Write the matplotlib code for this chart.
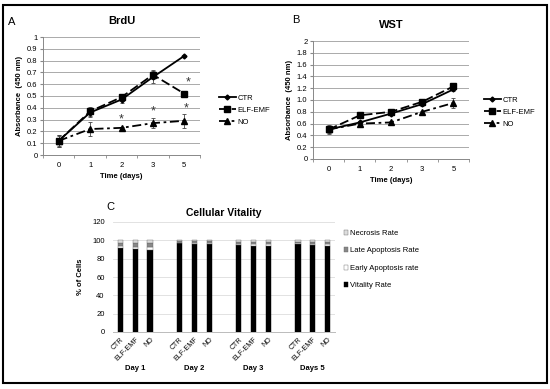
import numpy as np
import matplotlib
matplotlib.use("Agg")
import matplotlib.pyplot as plt
from matplotlib.patches import Rectangle
from matplotlib.transforms import blended_transform_factory

plt.rcParams['font.family'] = ['Liberation Sans', 'DejaVu Sans']

# time points (categorical x axis)
days = ['0', '1', '2', '3', '5']
series = ['CTR', 'ELF-EMF', 'NO']

# BrdU absorbance
brdu_ctr = [0.12, 0.36, 0.47, 0.66, 0.84]
brdu_elf = [0.12, 0.37, 0.49, 0.68, 0.52]
brdu_no = [0.12, 0.22, 0.23, 0.27, 0.29]
brdu_ctr_err = [0.05, 0.04, 0.03, 0.05, 0.01]
brdu_elf_err = [0.04, 0.04, 0.02, 0.04, 0.02]
brdu_no_err = [0.05, 0.06, 0.01, 0.04, 0.06]
# significance stars (category index, y)
brdu_star_x = [2.0, 3.0, 4.05, 4.12]
brdu_star_y = [0.30, 0.37, 0.395, 0.615]

# WST absorbance
wst_ctr = [0.50, 0.62, 0.77, 0.93, 1.18]
wst_elf = [0.50, 0.74, 0.80, 0.97, 1.23]
wst_no = [0.50, 0.60, 0.62, 0.80, 0.95]
wst_ctr_err = [0.08, 0.03, 0.03, 0.03, 0.03]
wst_elf_err = [0.06, 0.03, 0.03, 0.03, 0.03]
wst_no_err = [0.05, 0.03, 0.02, 0.02, 0.08]

# cellular vitality (%), 3 groups x 4 days
groups = ['Day 1', 'Day 2', 'Day 3', 'Days 5']
vitality = [92, 91, 89, 97, 96, 96, 95, 94, 94, 96, 95, 94]
early_apo = [2, 2, 4, 0.5, 1, 1, 1, 1.5, 1.5, 1, 1, 1.5]
late_apo = [3, 4, 4, 1.5, 2, 2, 2.5, 2.5, 2.5, 1.5, 2, 2.5]
necrosis = [3, 3, 3, 1, 1, 1, 1.5, 2, 2, 1.5, 2, 2]

W, H = 550, 389
fig = plt.figure(figsize=(5.5, 3.89), dpi=100)


def fx(px):
    return px / W


def fy(py):
    return 1 - py / H


def line_panel(ax, ctr, elf, no, errs, ymax, ystep, ylabels, title):
    x = np.arange(len(days))
    styles = [('-', 'D', 2.5), ((0, (5, 2)), 's', 4.5), ((0, (5, 2, 1.5, 2)), '^', 4)]
    for vals, err, name, (ls, mk, ms) in zip([ctr, elf, no], errs, series, styles):
        ax.errorbar(x, vals, yerr=err, fmt='none', ecolor='#444444', elinewidth=0.6,
                    capsize=1.5, capthick=0.6, zorder=2)
        ax.plot(x, vals, color='black', linestyle=ls, linewidth=1.3,
                marker=mk, markersize=ms, label=name, zorder=3)
    ax.set_xlim(-0.5, len(days) - 0.5)
    ax.set_ylim(0, ymax)
    ax.set_yticks(np.arange(0, ymax + ystep / 2, ystep))
    ax.set_yticklabels(ylabels)
    ax.set_xticks(x)
    ax.set_xticklabels(days)
    ax.set_xticks(np.arange(-0.5, len(days)), minor=True)
    ax.tick_params(axis='x', which='major', length=0, labelsize=5.5, pad=5)
    ax.tick_params(axis='x', which='minor', length=2.5, color='#888888')
    ax.tick_params(axis='y', length=2, color='#888888', labelsize=5.5, pad=2)
    ax.yaxis.grid(True, color='#aaaaaa', linewidth=0.7)
    ax.set_axisbelow(True)
    for s in ['top', 'right']:
        ax.spines[s].set_visible(False)
    for s in ['left', 'bottom']:
        ax.spines[s].set_color('#888888')
        ax.spines[s].set_linewidth(0.7)
    ax.set_xlabel('Time (days)', fontsize=5.5, fontweight='bold', labelpad=3)
    ax.set_ylabel('Absorbance  (450 nm)', fontsize=5.5, fontweight='bold', labelpad=3)
    ax.set_title(title, fontsize=8, fontweight='bold', pad=9)


# panel A
axA = fig.add_axes([fx(43), fy(155), fx(157), 118 / H])
line_panel(axA, brdu_ctr, brdu_elf, brdu_no, [brdu_ctr_err, brdu_elf_err, brdu_no_err],
           1.0, 0.1, ['0', '0.1', '0.2', '0.3', '0.4', '0.5', '0.6', '0.7', '0.8', '0.9', '1'], 'BrdU')
for sx, sy in zip(brdu_star_x, brdu_star_y):
    axA.text(sx, sy, '*', ha='center', va='center', fontsize=9, color='#333333')
axA.legend(loc='center left', bbox_to_anchor=(fx(212), fy(110)), bbox_transform=fig.transFigure,
           frameon=False, fontsize=5.5, handlelength=2.2, handletextpad=0.2, labelspacing=0.6)
fig.text(fx(8), fy(22), 'A', fontsize=8, va='center')

# panel B
axB = fig.add_axes([fx(313), fy(159), fx(156), 118 / H])
line_panel(axB, wst_ctr, wst_elf, wst_no, [wst_ctr_err, wst_elf_err, wst_no_err],
           2.0, 0.2, ['0', '0.2', '0.4', '0.6', '0.8', '1.0', '1.2', '1.4', '1.6', '1.8', '2'], 'WST')
axB.legend(loc='center left', bbox_to_anchor=(fx(477), fy(112)), bbox_transform=fig.transFigure,
           frameon=False, fontsize=5.5, handlelength=2.2, handletextpad=0.2, labelspacing=0.6)
fig.text(fx(292), fy(20), 'B', fontsize=8, va='center')

# panel C
axC = fig.add_axes([fx(113), fy(332), fx(222), 110 / H])
pos = np.array([4 * g + i for g in range(len(groups)) for i in range(3)])
bw = 0.35
b = np.zeros(len(vitality))
stacks = [(vitality, 'black', 'Vitality Rate'),
          (early_apo, 'white', 'Early Apoptosis rate'),
          (late_apo, '#888888', 'Late Apoptosis Rate'),
          (necrosis, '#dddddd', 'Necrosis Rate')]
handles = []
for vals, col, name in stacks:
    h = axC.bar(pos, vals, bw, bottom=b, color=col, edgecolor='#666666' if col != 'black' else 'black',
                linewidth=0.3, label=name)
    handles.append(h)
    b += np.array(vals)
axC.set_xlim(-0.5, 14.5)
axC.set_ylim(0, 120)
axC.set_yticks(np.arange(0, 121, 20))
axC.set_xticks(pos)
axC.set_xticklabels(series * len(groups), rotation=45, ha='right', rotation_mode='anchor')
axC.tick_params(axis='x', length=0, labelsize=5, pad=3)
axC.tick_params(axis='y', length=0, labelsize=5.5, pad=6)
axC.yaxis.grid(True, color='#dddddd', linewidth=0.6)
axC.set_axisbelow(True)
for s in ['top', 'right', 'left']:
    axC.spines[s].set_visible(False)
axC.spines['bottom'].set_color('#bbbbbb')
axC.spines['bottom'].set_linewidth(0.7)
axC.set_ylabel('% of Cells', fontsize=5.5, fontweight='bold', labelpad=6)
axC.set_title('Cellular Vitality', fontsize=7.5, fontweight='bold', pad=4)
tr = blended_transform_factory(axC.transData, fig.transFigure)
for g, name in enumerate(groups):
    axC.text(4 * g + 1, fy(368), name, transform=tr,
             ha='center', va='center', fontsize=5.5, fontweight='bold')
axC.legend(handles[::-1], [s[2] for s in stacks[::-1]], loc='upper left',
           bbox_to_anchor=(fx(337), fy(223)), bbox_transform=fig.transFigure,
           frameon=False, fontsize=5.5, handlelength=0.6, handleheight=0.6,
           handletextpad=0.15, labelspacing=1.35)
fig.text(fx(106), fy(207), 'C', fontsize=8, va='center')

# outer border
fig.patches.append(Rectangle((fx(3), fy(383)), fx(544), (383 - 5) / H, transform=fig.transFigure,
                             fill=False, edgecolor='black', linewidth=1.5))

fig.savefig('out.png', dpi=100)
